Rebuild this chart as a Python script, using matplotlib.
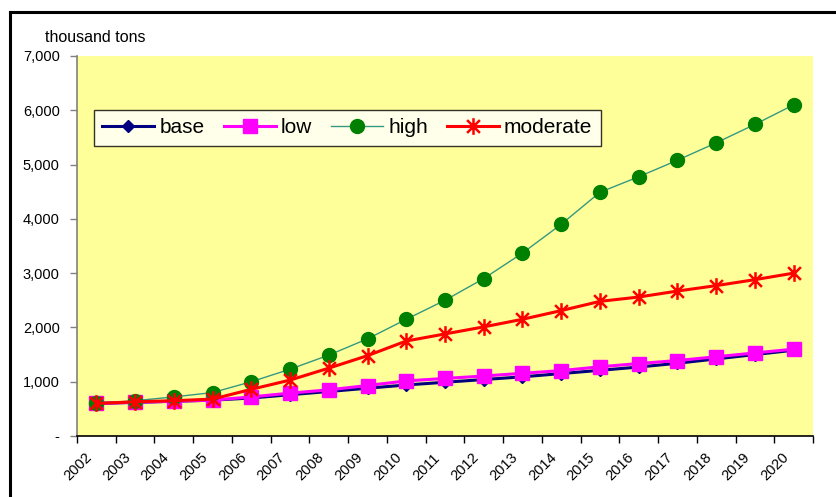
import matplotlib
matplotlib.use("Agg")
import matplotlib.pyplot as plt
import matplotlib.transforms as mtransforms
from matplotlib.path import Path
from matplotlib.lines import Line2D
from matplotlib.ticker import FuncFormatter, FixedLocator

plt.rcParams['font.family'] = ['Liberation Sans', 'DejaVu Sans']

years = [str(y) for y in range(2002, 2021)]
base = [600, 620, 640, 660, 700, 760, 820, 880, 940, 990, 1040, 1090, 1150, 1210, 1270, 1340, 1420, 1500, 1580]
low = [600, 620, 640, 660, 720, 790, 850, 930, 1015, 1060, 1105, 1155, 1205, 1275, 1335, 1390, 1460, 1530, 1600]
high = [600, 650, 720, 800, 1000, 1230, 1490, 1790, 2150, 2500, 2900, 3370, 3900, 4490, 4775, 5080, 5400, 5740, 6100]
moderate = [600, 630, 650, 680, 860, 1030, 1250, 1480, 1750, 1880, 2010, 2150, 2310, 2480, 2560, 2670, 2770, 2880, 3000]
y_ticks = [0, 1000, 2000, 3000, 4000, 5000, 6000, 7000]

# Excel-style star: an X crossed by a vertical bar
star = Path([(-1, -1), (1, 1), (-1, 1), (1, -1), (0, -1.3), (0, 1.3)],
            [Path.MOVETO, Path.LINETO, Path.MOVETO, Path.LINETO, Path.MOVETO, Path.LINETO])

fig = plt.figure(figsize=(8.37, 4.97), dpi=100)
ax = fig.add_axes([77 / 837, 61 / 497, 736 / 837, 380 / 497])
ax.set_facecolor('#FFFF99')

x = list(range(len(years)))
ax.plot(x, base, color='#000080', lw=2.2, marker='D', ms=6.5, mfc='#000080', mec='#000080', label='base', zorder=3)
ax.plot(x, low, color='#FF00FF', lw=2.2, marker='s', ms=10, mfc='#FF00FF', mec='#FF00FF', label='low', zorder=4)
ax.plot(x, high, color='#339980', lw=1.0, marker='o', ms=10, mfc='#008000', mec='#008000', label='high', zorder=5)
ax.plot(x, moderate, color='#FF0000', lw=2.2, marker=star, ms=12, mew=1.8, mfc='none', mec='#FF0000', label='moderate', zorder=6)

ax.set_xlim(-0.5, len(years) - 0.5)
ax.set_ylim(0, 7000)

# category boundaries carry the ticks, category centres carry the labels
ax.xaxis.set_major_locator(FixedLocator([i - 0.5 for i in range(len(years) + 1)]))
ax.xaxis.set_major_formatter(FuncFormatter(lambda v, p: ''))
ax.set_xticks(x, labels=years, minor=True)
ax.tick_params(axis='x', which='major', direction='out', length=5, width=1, color='black')
ax.tick_params(axis='x', which='minor', length=0, labelsize=10.5, pad=14)
shift = mtransforms.ScaledTranslation(-7 / 100, 0, fig.dpi_scale_trans)
for lab in ax.get_xticklabels(minor=True):
    lab.set_rotation(45)
    lab.set_ha('right')
    lab.set_va('center')
    lab.set_rotation_mode('anchor')
    lab.set_transform(lab.get_transform() + shift)

ax.set_yticks(y_ticks)
ax.yaxis.set_major_formatter(FuncFormatter(lambda v, p: '-' if v == 0 else f'{int(v):,}'))
ax.tick_params(axis='y', direction='out', length=5, width=1, color='#808080', labelsize=10.5, pad=7.5)

for side in ['top', 'right']:
    ax.spines[side].set_visible(False)
ax.spines['left'].set_color('#808080')
ax.spines['left'].set_linewidth(1.2)
ax.spines['bottom'].set_color('black')
ax.spines['bottom'].set_linewidth(1.2)

fig.text(45 / 837, 1 - 38 / 497, 'thousand tons', fontsize=11.5, ha='left', va='center')

leg = ax.legend(loc='upper left', bbox_to_anchor=(17 / 736, 326 / 380), ncol=4, frameon=True,
                fancybox=False, fontsize=15, handlelength=2.5, handletextpad=0.25,
                columnspacing=0.9, borderaxespad=0, borderpad=0.4)
leg.get_frame().set_edgecolor('black')
leg.get_frame().set_linewidth(1.0)

# outer chart frame
fig.add_artist(Line2D([10 / 837, 10 / 837], [0, 1 - 12 / 497], transform=fig.transFigure, color='black', lw=2.2))
fig.add_artist(Line2D([10 / 837, 1], [1 - 12 / 497, 1 - 12 / 497], transform=fig.transFigure, color='black', lw=2.2))

fig.savefig('out.png', dpi=100)
